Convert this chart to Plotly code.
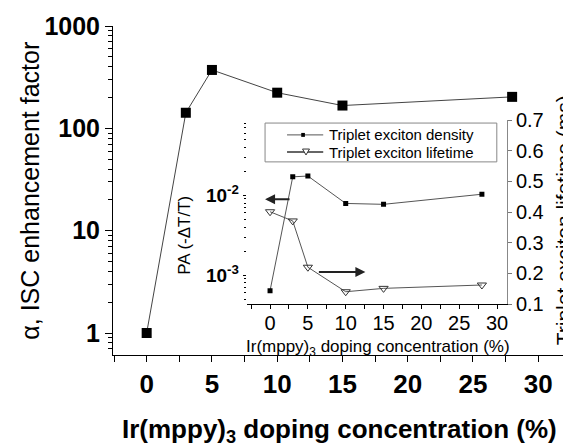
import plotly.graph_objects as go

# Main data: ISC enhancement factor
conc_main = [0, 3, 5, 10, 15, 28]
alpha = [1.0, 142, 372, 223, 167, 203]

# Inset data
conc_inset = [0, 3, 5, 10, 15, 28]
density = [6.4e-4, 1.7e-2, 1.74e-2, 7.9e-3, 7.7e-3, 1.03e-2]
lifetime = [0.401, 0.371, 0.22, 0.14, 0.151, 0.162]

legend_names = ["Triplet exciton density", "Triplet exciton lifetime"]

main_x_ticks = [0, 5, 10, 15, 20, 25, 30]
main_y_ticks = [1, 10, 100, 1000]
main_y_text = ["1", "10", "100", "1000"]
inset_x_ticks = [0, 5, 10, 15, 20, 25, 30]
inset_y_ticks = [1e-3, 1e-2]
inset_y_text = ["10<sup>-3</sup>", "10<sup>-2</sup>"]
inset_r_ticks = [0.1, 0.2, 0.3, 0.4, 0.5, 0.6, 0.7]
inset_r_text = ["0.1", "0.2", "0.3", "0.4", "0.5", "0.6", "0.7"]

FONT = "Liberation Sans, Arial, sans-serif"

fig = go.Figure()

fig.add_trace(go.Scatter(
    x=conc_main, y=alpha, mode="lines+markers", xaxis="x", yaxis="y",
    line=dict(color="#444444", width=1),
    marker=dict(symbol="square", size=10, color="black"),
    showlegend=False))

fig.add_trace(go.Scatter(
    x=conc_inset, y=density, mode="lines+markers", xaxis="x3", yaxis="y3",
    name=legend_names[0], showlegend=False,
    line=dict(color="#555555", width=1),
    marker=dict(symbol="square", size=5, color="black")))

fig.add_trace(go.Scatter(
    x=conc_inset, y=lifetime, mode="lines+markers", xaxis="x3", yaxis="y4",
    name=legend_names[1], showlegend=False,
    line=dict(color="#555555", width=1),
    marker=dict(symbol="triangle-down-open", size=8, color="#333333",
                line=dict(width=1))))

inset_xd = [0.292, 0.860]
inset_yd = [0.155, 0.714]

fig.update_layout(
    width=563, height=438,
    margin=dict(l=105, r=0, t=18, b=91),
    paper_bgcolor="white", plot_bgcolor="white",
    font=dict(family=FONT, color="black"),
    showlegend=False,
    xaxis=dict(domain=[0, 1], range=[-2.58, 32.51], tickvals=main_x_ticks,
               ticks="outside", ticklen=6, tickwidth=1, tickcolor="black",
               minor=dict(dtick=2.5, ticks="outside", ticklen=6, tickcolor="black"),
               showline=True, linecolor="black", linewidth=1, showgrid=False,
               zeroline=False,
               tickfont=dict(size=26, family=FONT, weight="bold")),
    yaxis=dict(type="log", range=[-0.215, 3], tickvals=main_y_ticks,
               ticktext=main_y_text, ticks="outside", ticklen=7,
               tickcolor="black",
               minor=dict(ticks="outside", ticklen=4, tickcolor="black",
                          dtick="D1"),
               showline=True, linecolor="black", linewidth=1, showgrid=False,
               zeroline=False,
               tickfont=dict(size=25, family=FONT, weight="bold")),
    xaxis2=dict(overlaying="x", side="top", matches="x", range=[-2.58, 32.51],
                tickvals=main_x_ticks, ticks="inside", ticklen=6,
                tickcolor="black", showticklabels=False, showline=True,
                linecolor="black", showgrid=False, zeroline=False),
    yaxis2=dict(overlaying="y", side="right", type="log", range=[-0.215, 3],
                tickvals=main_y_ticks, ticks="inside", ticklen=6,
                tickcolor="black",
                minor=dict(ticks="inside", ticklen=3, tickcolor="black",
                           dtick="D1"),
                showticklabels=False, showline=True, linecolor="black",
                showgrid=False, zeroline=False),
    xaxis3=dict(domain=inset_xd, anchor="y3", range=[-3.08, 31.3],
                tickvals=inset_x_ticks, ticks="outside", ticklen=4,
                tickcolor="black", ticklabelstandoff=-3,
                minor=dict(dtick=2.5, ticks="outside", ticklen=4, tickcolor="black"),
                showline=True, linecolor="black", linewidth=1, showgrid=False,
                zeroline=False, tickfont=dict(size=20, family=FONT)),
    yaxis3=dict(domain=inset_yd, anchor="x3", type="log",
                range=[-3.36, -1.06], tickvals=inset_y_ticks,
                ticktext=inset_y_text, ticks="outside", ticklen=3,
                tickcolor="black",
                minor=dict(ticks="outside", ticklen=2, tickcolor="black",
                           dtick="D1"),
                showline=False, showgrid=False, zeroline=False,
                tickfont=dict(size=19, family=FONT, weight="bold")),
    yaxis4=dict(overlaying="y3", anchor="x3", side="right",
                range=[0.1, 0.7], tickvals=inset_r_ticks,
                ticktext=inset_r_text,
                ticks="outside", ticklen=4, tickcolor="#777777",
                showline=True, linecolor="#888888", linewidth=1,
                showgrid=False, zeroline=False,
                tickfont=dict(size=20, family=FONT)),
    xaxis4=dict(overlaying="x3", anchor="y3", side="top",
                range=[-3.08, 31.3], tickvals=inset_x_ticks, ticks="inside",
                ticklen=3, tickcolor="black",
                minor=dict(dtick=2.5, ticks="inside", ticklen=3, tickcolor="black"),
                showticklabels=False, showline=True, linecolor="black",
                showgrid=False, zeroline=False),
)

# Hand-made compact legend for the inset
shapes = [
    dict(type="rect", xref="paper", yref="paper", x0=0.332, x1=0.838,
         y0=0.587, y1=0.705, line=dict(color="#888888", width=1),
         fillcolor="white", layer="above"),
    dict(type="line", xref="paper", yref="paper", x0=0.380, x1=0.459,
         y0=0.669, y1=0.669, line=dict(color="#555555", width=1), layer="above"),
    dict(type="rect", xref="paper", yref="paper", x0=0.411, x1=0.419,
         y0=0.663, y1=0.675, line=dict(color="black", width=0),
         fillcolor="black", layer="above"),
    dict(type="line", xref="paper", yref="paper", x0=0.380, x1=0.459,
         y0=0.617, y1=0.617, line=dict(color="#333333", width=1.5), layer="above"),
    dict(type="path", xref="paper", yref="paper",
         path="M 0.4138 0.626 L 0.4290 0.626 L 0.4214 0.608 Z",
         line=dict(color="#333333", width=1), fillcolor="white", layer="above"),
]

annotations = [
    dict(text=legend_names[0], xref="paper", yref="paper", x=0.467, y=0.669,
         xanchor="left", yanchor="middle", showarrow=False,
         font=dict(size=15, family=FONT)),
    dict(text=legend_names[1], xref="paper", yref="paper", x=0.467, y=0.617,
         xanchor="left", yanchor="middle", showarrow=False,
         font=dict(size=15, family=FONT)),
    dict(text="Ir(mppy)<sub>3</sub> doping concentration (%)",
         xref="paper", yref="paper", x=0.495, y=-0.228, yanchor="middle",
         xanchor="center", showarrow=False,
         font=dict(size=26, family=FONT, weight="bold")),
    dict(text="\u03b1, ISC enhancement factor", xref="paper", yref="paper",
         x=-0.183, y=0.5, xanchor="center", yanchor="middle", textangle=-90,
         showarrow=False, font=dict(size=25, family=FONT)),
    dict(text="Ir(mppy)<sub>3</sub> doping concentration (%)",
         xref="paper", yref="paper", x=0.578, y=0.02, xanchor="center",
         yanchor="middle", showarrow=False, font=dict(size=17, family=FONT)),
    dict(text="PA (-\u0394T/T)", xref="paper", yref="paper",
         x=0.157, y=0.365, xanchor="center", yanchor="middle", textangle=-90,
         showarrow=False, font=dict(size=17, family=FONT)),
    dict(text="Triplet exciton lifetime (ms)", xref="paper", yref="paper",
         x=0.983, y=0.41, xanchor="center", yanchor="middle", textangle=-90,
         showarrow=False, font=dict(size=21, family=FONT)),
    # arrows
    dict(x=-0.66, y=-2.05, xref="x3", yref="y3", ax=26, ay=0,
         axref="pixel", ayref="pixel", text="", showarrow=True,
         arrowhead=2, arrowsize=1, arrowwidth=2, arrowcolor="#222222"),
    dict(x=12.6, y=0.204, xref="x3", yref="y4", ax=-48, ay=0,
         axref="pixel", ayref="pixel", text="", showarrow=True,
         arrowhead=2, arrowsize=1, arrowwidth=2, arrowcolor="#222222"),
]
fig.update_layout(annotations=annotations, shapes=shapes)

fig.write_html("out.html")
